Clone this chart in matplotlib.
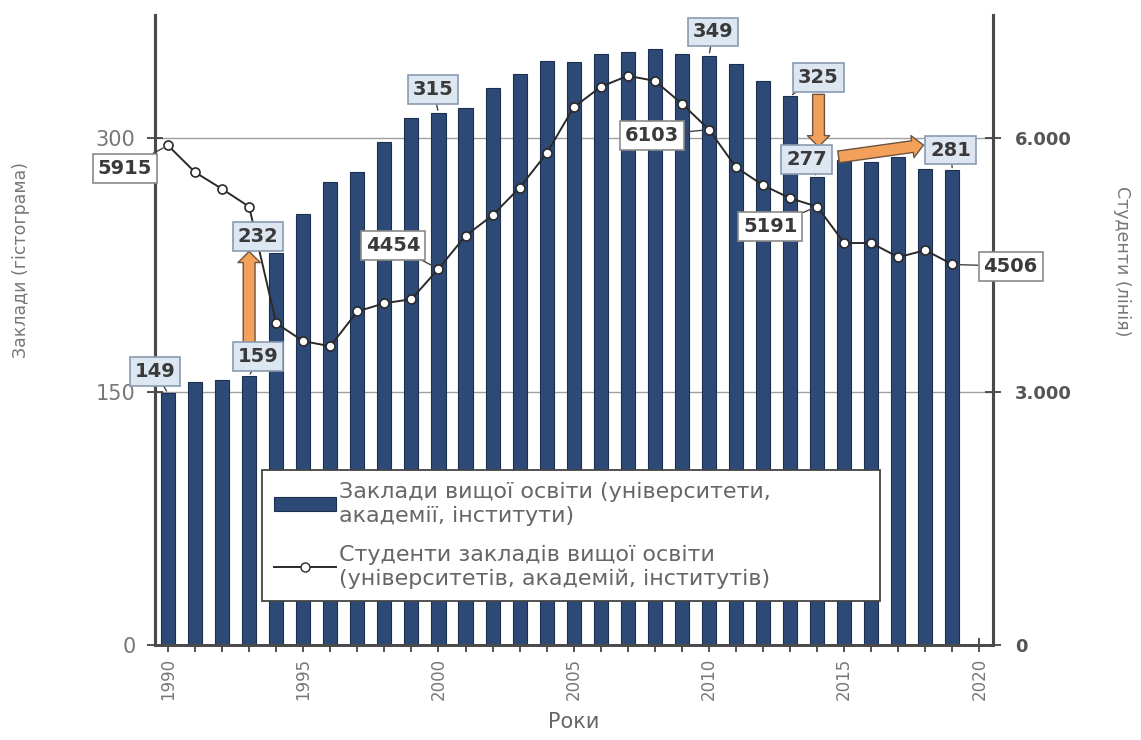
import matplotlib
matplotlib.use("Agg")
import matplotlib.pyplot as plt
from matplotlib.patches import FancyArrowPatch, Rectangle
from matplotlib.lines import Line2D
from matplotlib.ticker import MultipleLocator, FuncFormatter
from matplotlib import font_manager

# ---------------- data ----------------
years = list(range(1990, 2020))
institutions = [149, 156, 157, 159, 232, 255, 274, 280, 298, 312,
                315, 318, 330, 338, 346, 345, 350, 351, 353, 350,
                349, 344, 334, 325, 277, 287, 286, 289, 282, 281]
students = [5915, 5598, 5400, 5190, 3810, 3598, 3538, 3950, 4047, 4095,
            4454, 4845, 5089, 5415, 5822, 6367, 6610, 6740, 6680, 6410,
            6103, 5657, 5444, 5290, 5191, 4760, 4760, 4592, 4675, 4506]

bar_label_years = [1990, 1993, 1994, 2000, 2010, 2013, 2014, 2019]
line_label_years = [1990, 2000, 2010, 2014, 2019]

left_ticks = [0, 150, 300]
right_ticks = [0, 3000, 6000]
x_major_ticks = [1990, 1995, 2000, 2005, 2010, 2015, 2020]

bar_series_name = "Заклади вищої освіти (університети,\nакадемії, інститути)"
line_series_name = "Студенти закладів вищої освіти\n(університетів, академій, інститутів)"
xlabel = "Роки"
ylabel_left = "Заклади (гістограма)"
ylabel_right = "Студенти (лінія)"

# ---------------- layout (label box positions) ----------------
bar_label_pos = {1990: (1989.52, 162), 1993: (1993.33, 171), 1994: (1993.33, 242),
                 2000: (1999.8, 329), 2010: (2010.16, 363), 2013: (2014.05, 336),
                 2014: (2013.6, 287.5), 2019: (2018.93, 293)}
line_label_pos = {1990: (1988.4, 5645), 2000: (1998.32, 4734), 2010: (2007.9, 6036),
                  2014: (2012.27, 4959), 2019: (2021.15, 4485)}

plt.rcParams['font.family'] = ['DejaVu Sans']

available = {f.name for f in font_manager.fontManager.ttflist}
narrow = ['Liberation Sans Narrow'] if 'Liberation Sans Narrow' in available else []
narrow_family = narrow + ['DejaVu Sans']
axis_label_size = 15 if narrow else 12.5

W, H = 1141, 740
fig = plt.figure(figsize=(W / 100, H / 100), dpi=100)
fig.patch.set_facecolor('white')
ax = fig.add_axes([155 / W, 1 - 645 / H, (993 - 155) / W, (645 - 15) / H])
ax2 = ax.twinx()

YMAX = 373
ax.set_ylim(0, YMAX)
ax2.set_ylim(0, YMAX * 20)
ax.set_xlim(1989.52, 2020.5)

BAR_C = '#2d4a76'
ax.bar(years, institutions, width=0.52, color=BAR_C, edgecolor='#1c2f4f',
       linewidth=0.8, zorder=2)
for v in [150, 300]:
    ax.axhline(v, color='#a0a0a0', lw=1.0, zorder=1)

ax2.plot(years, students, color='#2a2a2a', lw=1.4, marker='o', ms=6.5,
         markerfacecolor='white', markeredgecolor='#2a2a2a', markeredgewidth=1.2,
         zorder=3)

# spines
for a in (ax, ax2):
    a.spines['top'].set_visible(False)
    for s in ('left', 'right', 'bottom'):
        a.spines[s].set_color('#4a4a4a')
    a.spines['left'].set_linewidth(2.2)
    a.spines['right'].set_linewidth(2.2)
    a.spines['bottom'].set_linewidth(2.0)

ax.set_yticks(left_ticks)
ax.tick_params(axis='y', direction='inout', length=12, width=1.3, color='#444',
               labelsize=15, labelcolor='#777', pad=8)
ax2.set_yticks(right_ticks)
ax2.yaxis.set_major_formatter(FuncFormatter(lambda v, p: f"{int(v):,}".replace(',', '.')))
ax2.tick_params(axis='y', direction='inout', length=12, width=1.3, color='#444',
                labelsize=13, labelcolor='#555', pad=10)
for t in ax2.get_yticklabels():
    t.set_fontweight('bold')

ax.set_xticks(x_major_ticks)
ax.xaxis.set_minor_locator(MultipleLocator(1))
ax.tick_params(axis='x', which='both', direction='inout', length=10, width=1.3,
               color='#444', labelsize=12, labelcolor='#777', labelrotation=90, pad=4)

ax.set_xlabel(xlabel, fontsize=15, color='#666')
ax.xaxis.set_label_coords(0.5, -(712 - 645) / 630)
ax.set_ylabel(ylabel_left, fontsize=axis_label_size, color='#777', family=narrow_family)
ax.yaxis.set_label_coords((30 - 155) / 838, (645 - 260) / 630)
ax2.set_ylabel(ylabel_right, fontsize=axis_label_size, color='#777', rotation=270,
               family=narrow_family, va='center')
ax2.yaxis.set_label_coords((1122 - 155) / 838, (645 - 261) / 630)

# ---------------- annotations ----------------
blue_box = dict(boxstyle='square,pad=0.25', fc='#dde7f2', ec='#8a9bb0', lw=1.2)
white_box = dict(boxstyle='square,pad=0.25', fc='white', ec='#8a8a8a', lw=1.2)
ann_kw = dict(fontsize=14, fontweight='bold', color='#3a3a3a', ha='center',
              va='center', zorder=10)

for yr in bar_label_years:
    i = years.index(yr)
    tx, ty = bar_label_pos[yr]
    ax2.annotate(str(institutions[i]), xy=(yr, institutions[i]), xycoords=ax.transData,
                 xytext=(tx, ty), textcoords=ax.transData, bbox=blue_box,
                 arrowprops=dict(arrowstyle='-', color='#444', lw=1.0,
                                 shrinkA=0, shrinkB=2), **ann_kw)

for yr in line_label_years:
    i = years.index(yr)
    tx, ty = line_label_pos[yr]
    a = ax2.annotate(str(students[i]), xy=(yr, students[i]), xycoords='data',
                     xytext=(tx, ty), textcoords='data', bbox=white_box,
                     arrowprops=dict(arrowstyle='-', color='#444', lw=1.0,
                                     shrinkA=0, shrinkB=4), annotation_clip=False,
                     **ann_kw)
    a.set_clip_on(False)

# orange arrows
def orange_arrow(p0, p1):
    arr = FancyArrowPatch(p0, p1, transform=ax.transData,
                          arrowstyle='simple,head_length=0.8,head_width=1.6,tail_width=0.85',
                          mutation_scale=10, fc='#f2a05a', ec='#6b5440', lw=1.0,
                          shrinkA=0, shrinkB=0, zorder=8)
    ax2.add_patch(arr)

i93, i94, i13, i14, i19 = (years.index(y) for y in (1993, 1994, 2013, 2014, 2019))
orange_arrow((1993.0, institutions[i93] + 17), (1993.0, institutions[i94] + 1))
orange_arrow((2014.05, institutions[i13] + 1), (2014.05, institutions[i14] + 18))
orange_arrow((2014.79, institutions[i14] + 12), (2017.93, institutions[i19] + 15))

# ---------------- legend ----------------
h_bar = Rectangle((0, 0), 1, 1, fc=BAR_C, ec='#1c2f4f', lw=0.8)
h_line = Line2D([], [], color='#2a2a2a', lw=1.4, marker='o', ms=6.5,
                markerfacecolor='white', markeredgecolor='#2a2a2a')
leg = ax2.legend([h_bar, h_line], [bar_series_name, line_series_name],
                 loc='upper left',
                 bbox_to_anchor=(262 / W, 1 - 612 / H, (880 - 262) / W, (612 - 470) / H),
                 bbox_transform=fig.transFigure, mode='expand', fontsize=16,
                 frameon=True, fancybox=False, framealpha=1, edgecolor='#444',
                 handlelength=2.8, handleheight=0.6, handletextpad=0.1,
                 labelspacing=0.85, borderpad=0.55, borderaxespad=0)
leg.get_frame().set_linewidth(1.3)
leg.set_zorder(20)
for t in leg.get_texts():
    t.set_color('#666')

fig.savefig('out.png', dpi=100, facecolor='white')
